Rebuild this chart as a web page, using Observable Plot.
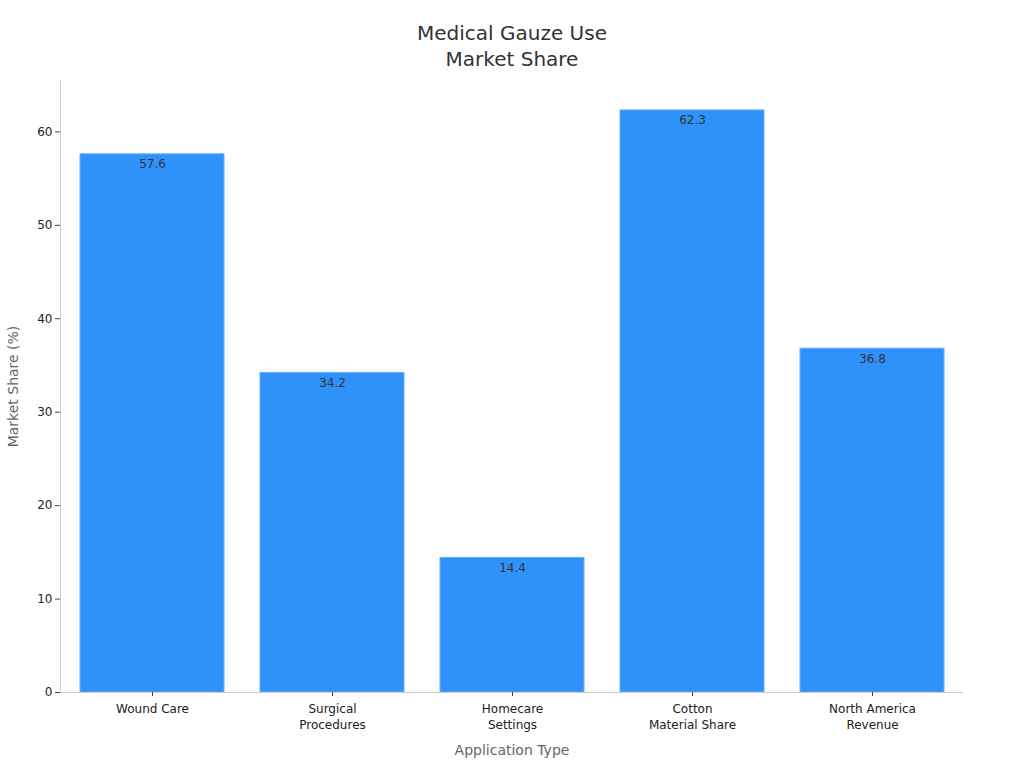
<!DOCTYPE html>
<html>
<head>
<meta charset="utf-8">
<script src="https://cdn.jsdelivr.net/npm/d3@7"></script>
<script src="https://cdn.jsdelivr.net/npm/@observablehq/plot@0.6"></script>
<style>
  html, body { margin: 0; padding: 0; background: #fff; }
  body { width: 1024px; height: 768px; overflow: hidden; font-family: "DejaVu Sans", sans-serif; }
  #title { text-align: center; font-size: 20px; line-height: 26px; color: #333; padding-top: 20px; height: 52px; }
  #chart svg { display: block; }
</style>
</head>
<body>
<div id="title">Medical Gauze Use<br>Market Share</div>
<div id="chart"></div>
<script>
const categories = ["Wound Care", "Surgical\nProcedures", "Homecare\nSettings", "Cotton\nMaterial Share", "North America\nRevenue"];
const values = [57.6, 34.2, 14.4, 62.3, 36.8];
const yTicks = [0, 10, 20, 30, 40, 50, 60];

const data = categories.map((c, i) => ({category: c, value: values[i]}));

const chart = Plot.plot({
  width: 1024,
  height: 696,
  marginTop: 8,
  marginBottom: 76,
  marginLeft: 60,
  marginRight: 61,
  style: {fontFamily: "DejaVu Sans, sans-serif", fontSize: "12px", color: "#333", background: "#fff"},
  x: {domain: categories, paddingInner: 0.2, paddingOuter: 0.1},
  y: {domain: [0, 65.5], ticks: yTicks},
  marks: [
    Plot.barY(data, {x: "category", y: "value", fill: "#2F92FA", stroke: "#67AEFB", strokeWidth: 1}),
    Plot.text(data, {x: "category", y: "value", text: d => d.value.toFixed(1), dy: 10, fill: "#333", fontSize: 12}),
    Plot.frame({anchor: "left", stroke: "#ccc"}),
    Plot.ruleY([0], {stroke: "#ccc"}),
    Plot.axisY({ticks: yTicks, tickSize: 5, stroke: "#444", fontSize: 12, fill: "#222", label: "Market Share (%)", labelAnchor: "center", labelArrow: "none", labelOffset: 52, tickPadding: 3}),
    Plot.axisX({tickSize: 4, stroke: "#444", fontSize: 12, fill: "#222", lineHeight: 1.35, label: "Application Type", labelAnchor: "center", labelArrow: "none", labelOffset: 62, tickPadding: 5})
  ]
});
document.getElementById("chart").appendChild(chart);

chart.querySelectorAll("g[aria-label='y-axis label'] text, g[aria-label='x-axis label'] text").forEach(t => {
  t.setAttribute("fill", "#666");
  t.style.fontSize = "14px";
});
</script>
</body>
</html>
